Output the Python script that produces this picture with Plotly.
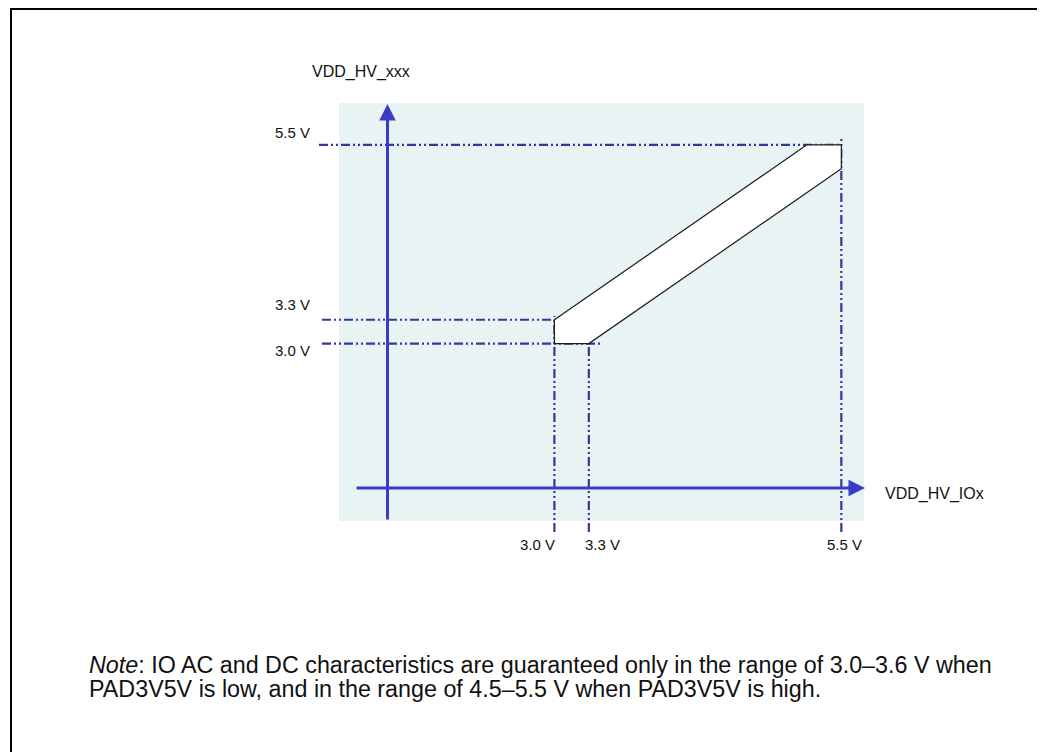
import plotly.graph_objects as go

W, H = 1045, 752

# ---------------- data ----------------
# allowed-region polygon: VDD_HV_IOx (x) vs VDD_HV_xxx (y), volts
region_io = [3.0, 5.2, 5.5, 5.5, 3.3, 3.0]
region_xxx = [3.3, 5.5, 5.5, 5.2, 3.0, 3.0]

x_ticks = [3.0, 3.3, 5.5]
x_tick_labels = ["3.0 V", "3.3 V", "5.5 V"]
y_ticks = [5.5, 3.3, 3.0]
y_tick_labels = ["5.5 V", "3.3 V", "3.0 V"]

x_axis_title = "VDD_HV_IOx"
y_axis_title = "VDD_HV_xxx"

note_line1 = "<i>Note</i>: IO AC and DC characteristics are guaranteed only in the range of 3.0\u20133.6 V when"
note_line2 = "PAD3V5V is low, and in the range of 4.5\u20135.5 V when PAD3V5V is high."
title_text = ("<b>Figure 35. Allowed HV and support combinations at IO "
              "(relative to V<sub>DD_HV_IOx</sub> HV rail level)</b>")

# ---------------- styling / layout ----------------
FONT = "Liberation Sans, Arial, sans-serif"
AXIS_BLUE = "#3b3bc9"
DASH_BLUE = "#36369c"
DASH = "9px,3px,2px,3px,2px,3px"
OFF = 8  # page body margin offset


def PX(x):
    return (x - OFF) / W


def PY(y):
    return 1 - (y - OFF) / H


fig = go.Figure()

# allowed region (white band with thin black outline)
fig.add_trace(go.Scatter(
    x=region_io + [region_io[0]], y=region_xxx + [region_xxx[0]],
    mode="lines", fill="toself", fillcolor="white",
    line=dict(color="#1a1a1a", width=1.2),
    hoverinfo="skip", showlegend=False))

shapes = []
# light background panel
shapes.append(dict(type="rect", xref="paper", yref="paper",
                   x0=PX(339), x1=PX(864), y0=PY(521), y1=PY(103),
                   fillcolor="#e8f4f4", line=dict(width=0), layer="below"))
# horizontal dash-dot-dot guides
h_extent = {5.5: (319, 839), 3.3: (322, 602), 3.0: (322, 602)}
for v in y_ticks:
    a, b = h_extent[v]
    shapes.append(dict(type="line", xref="paper", yref="y",
                       x0=PX(a), x1=PX(b), y0=v, y1=v,
                       line=dict(color=DASH_BLUE, width=2.2, dash=DASH),
                       layer="below"))
# vertical dash-dot-dot guides
v_extent = {3.0: (316, 532), 3.3: (316, 532), 5.5: (137, 532)}
for v in x_ticks:
    a, b = v_extent[v]
    shapes.append(dict(type="line", xref="x", yref="paper",
                       x0=v, x1=v, y0=PY(b), y1=PY(a),
                       line=dict(color=DASH_BLUE, width=2.2, dash=DASH),
                       layer="below"))
# outer frame
shapes.append(dict(type="rect", xref="paper", yref="paper",
                   x0=PX(11), x1=PX(1041), y0=-0.2, y1=PY(9),
                   line=dict(color="black", width=2), fillcolor="rgba(0,0,0,0)"))

ann = []
# axes arrows
ann.append(dict(xref="paper", yref="paper", x=PX(387.5), y=PY(104),
                ax=0, ay=417, axref="pixel", ayref="pixel", text="",
                showarrow=True, arrowhead=2, arrowsize=1.1, arrowwidth=3,
                arrowcolor=AXIS_BLUE, standoff=0))
ann.append(dict(xref="paper", yref="paper", x=PX(865), y=PY(488),
                ax=-510, ay=0, axref="pixel", ayref="pixel", text="",
                showarrow=True, arrowhead=2, arrowsize=1.1, arrowwidth=3,
                arrowcolor=AXIS_BLUE, standoff=0))
# axis titles
ann.append(dict(xref="paper", yref="paper", x=PX(361), y=PY(72),
                xanchor="center", yanchor="middle",
                text=y_axis_title, showarrow=False,
                font=dict(family=FONT, size=16, color="#111")))
ann.append(dict(xref="paper", yref="paper", x=PX(883), y=PY(494),
                xanchor="left", yanchor="middle",
                text=x_axis_title, showarrow=False,
                font=dict(family=FONT, size=16, color="#111")))
# y tick labels
y_shift = {5.5: 12, 3.3: 15, 3.0: -7}
for v, t in zip(y_ticks, y_tick_labels):
    ann.append(dict(xref="paper", yref="y", x=PX(312), y=v, yshift=y_shift[v],
                    xanchor="right", yanchor="middle", text=t, showarrow=False,
                    font=dict(family=FONT, size=15, color="#111")))
# x tick labels
x_anchor = {3.0: ("right", 3), 3.3: ("left", -6), 5.5: ("center", 3)}
for v, t in zip(x_ticks, x_tick_labels):
    anc, sh = x_anchor[v]
    ann.append(dict(xref="x", yref="paper", x=v, y=PY(544), xanchor=anc,
                    yanchor="middle", xshift=sh, text=t, showarrow=False,
                    font=dict(family=FONT, size=15, color="#111")))
# note
ann.append(dict(xref="paper", yref="paper", x=PX(87), y=PY(665),
                xanchor="left", yanchor="middle",
                text=note_line1, showarrow=False,
                font=dict(family=FONT, size=23.3, color="#111")))
ann.append(dict(xref="paper", yref="paper", x=PX(87), y=PY(689),
                xanchor="left", yanchor="middle",
                text=note_line2, showarrow=False,
                font=dict(family=FONT, size=23.3, color="#111")))
# cropped caption at the very top (only its lowest edge falls in the picture)
ann.append(dict(xref="paper", yref="paper", x=PX(5), y=1.0 - 2 / H,
                xanchor="left", yanchor="bottom", text=title_text, showarrow=False,
                font=dict(family=FONT, size=19, color="black")))

x0 = 3.0 - (554.4 - OFF) / 114.77
y_top = (582.1 - OFF) / 79.5
fig.update_layout(
    width=W, height=H, margin=dict(l=0, r=0, t=0, b=0),
    paper_bgcolor="white", plot_bgcolor="rgba(0,0,0,0)",
    xaxis=dict(range=[x0, x0 + W / 114.77], visible=False, fixedrange=True),
    yaxis=dict(range=[y_top - H / 79.5, y_top], visible=False, fixedrange=True),
    shapes=shapes, annotations=ann, showlegend=False,
)

fig.write_html("out.html")
